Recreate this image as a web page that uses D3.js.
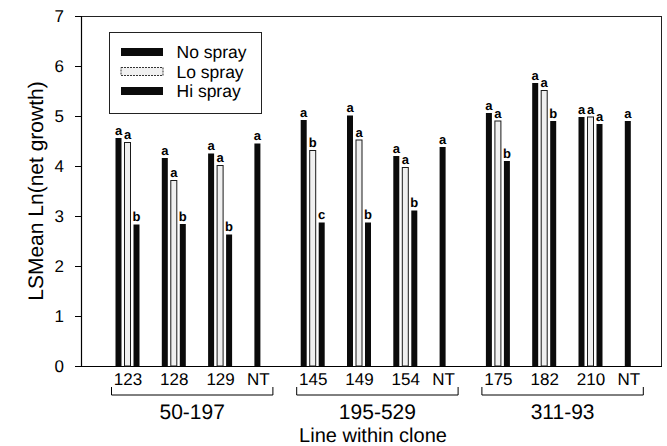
<!DOCTYPE html>
<html>
<head>
<meta charset="utf-8">
<script src="https://cdn.jsdelivr.net/npm/d3@7"></script>
<style>
  html, body { margin: 0; padding: 0; background: #fff; }
  svg { display: block; font-family: "Liberation Sans", Arial, Helvetica, sans-serif; -webkit-font-smoothing: antialiased; }
  text { text-rendering: geometricPrecision; }
</style>
</head>
<body>
<svg id="chart" width="667" height="446"></svg>
<script>
// ---- data ----
const lineLabels = ["123", "128", "129", "NT", "145", "149", "154", "NT", "175", "182", "210", "NT"];
const lineClone  = [0, 0, 0, 0, 1, 1, 1, 1, 2, 2, 2, 2];
const clones = ["50-197", "195-529", "311-93"];
const seriesNames = ["No spray", "Lo spray", "Hi spray"];
const noSpray = [4.56, 4.16, 4.25, 4.45, 4.92, 5.01, 4.20, 4.38, 5.06, 5.66, 4.98, 4.90];
const loSpray = [4.47, 3.71, 4.01, null, 4.31, 4.52, 3.97, null, 4.90, 5.51, 4.98, null];
const hiSpray = [2.83, 2.84, 2.63, null, 2.87, 2.87, 3.11, null, 4.10, 4.90, 4.84, null];
const noLetters = ["a", "a", "a", "a", "a", "a", "a", "a", "a", "a", "a", "a"];
const loLetters = ["a", "a", "a", null, "b", "a", "a", null, "a", "a", "a", null];
const hiLetters = ["b", "b", "b", null, "c", "b", "b", null, "b", "b", "a", null];
const yTicks = [0, 1, 2, 3, 4, 5, 6, 7];

// ---- layout ----
const L = 81, R = 662, T = 16, B = 366;
const svg = d3.select("#chart");

const y = d3.scaleLinear().domain([0, 7]).range([B, T]);
const ids = d3.range(lineLabels.length);
const x = d3.scaleBand().domain(ids).range([115.5, 115.5 + 12 * 46.3]).paddingInner(0).paddingOuter(0);
const xs = d3.scaleBand().domain(seriesNames).range([0, 24]).paddingInner(1 / 3).paddingOuter(0);

const seriesVals = [noSpray, loSpray, hiSpray];
const seriesLetters = [noLetters, loLetters, hiLetters];
const fills = ["#0b0b0b", "#f0f0f0", "#0b0b0b"];

const bars = [];
seriesNames.forEach((s, si) => {
  ids.forEach(i => {
    const v = seriesVals[si][i];
    if (v != null) bars.push({ i, s, si, v, letter: seriesLetters[si][i] });
  });
});

// frame
svg.append("line").attr("x1", L).attr("x2", R).attr("y1", T + 0.5).attr("y2", T + 0.5)
  .attr("stroke", "#222").attr("stroke-width", 1);
svg.append("line").attr("x1", R - 0.5).attr("x2", R - 0.5).attr("y1", T).attr("y2", B)
  .attr("stroke", "#222").attr("stroke-width", 1);

// y axis
const yAxis = svg.append("g").attr("transform", `translate(${L},0)`)
  .call(d3.axisLeft(y).tickValues(yTicks).tickSize(6).tickPadding(11).tickFormat(d3.format("d")));
yAxis.select(".domain").attr("stroke", "#000").attr("stroke-width", 1.2);
yAxis.selectAll(".tick line").attr("stroke", "#000");
yAxis.selectAll(".tick text").attr("font-size", 17).attr("fill", "#000")
  .attr("font-family", "Liberation Sans, Arial, sans-serif");

// bottom axis line
svg.append("line").attr("x1", L - 6).attr("x2", R).attr("y1", B + 0.5).attr("y2", B + 0.5)
  .attr("stroke", "#000").attr("stroke-width", 1.2);

// bars
svg.append("g").selectAll("rect").data(bars).join("rect")
  .attr("x", d => x(d.i) + xs(d.s))
  .attr("y", d => y(d.v))
  .attr("width", xs.bandwidth())
  .attr("height", d => y(0) - y(d.v))
  .attr("fill", d => fills[d.si])
  .attr("stroke", d => d.si === 1 ? "#1a1a1a" : "none")
  .attr("stroke-width", 1);

// letters
svg.append("g").selectAll("text").data(bars).join("text")
  .attr("x", d => x(d.i) + xs(d.s) + xs.bandwidth() / 2)
  .attr("y", d => y(d.v) - 3.5)
  .attr("text-anchor", "middle")
  .attr("font-size", 13)
  .attr("font-weight", "bold")
  .attr("fill", "#000")
  .text(d => d.letter);

// x tick labels
svg.append("g").selectAll("text").data(ids).join("text")
  .attr("x", i => lineLabels[i] === "NT" ? x(i) + xs.bandwidth() / 2 + 1 : x(i) + 12.5)
  .attr("y", 384.5)
  .attr("text-anchor", "middle")
  .attr("font-size", 17)
  .attr("fill", "#000")
  .text(i => lineLabels[i]);

// clone brackets
const cloneRanges = clones.map((c, ci) => {
  const members = ids.filter(i => lineClone[i] === ci);
  const x0 = x(members[0]) - 4;
  const x1 = x(members[members.length - 1]) + xs.bandwidth() + 12.5;
  return { c, x0, x1 };
});
const br = svg.append("g");
br.selectAll("path").data(cloneRanges).join("path")
  .attr("d", d => `M${d.x0},387 V395 H${d.x1} V387`)
  .attr("fill", "none").attr("stroke", "#000").attr("stroke-width", 1);
br.selectAll("text").data(cloneRanges).join("text")
  .attr("x", d => (d.x0 + d.x1) / 2)
  .attr("y", 418.5)
  .attr("text-anchor", "middle")
  .attr("font-size", 21)
  .attr("fill", "#000")
  .text(d => d.c);

// axis titles
svg.append("text").attr("x", (L + R) / 2 + 1.5).attr("y", 442)
  .attr("text-anchor", "middle").attr("font-size", 20).attr("fill", "#000")
  .text("Line within clone");
svg.append("text")
  .attr("transform", `translate(43,${(T + B) / 2}) rotate(-90)`)
  .attr("text-anchor", "middle").attr("font-size", 21).attr("fill", "#000")
  .text("LSMean Ln(net growth)");

// legend
const lg = svg.append("g");
lg.append("rect").attr("x", 109.5).attr("y", 32.5).attr("width", 152).attr("height", 81)
  .attr("fill", "#fff").attr("stroke", "#222").attr("stroke-width", 1);
const ly = d3.scalePoint().domain(seriesNames).range([52, 91]);
lg.selectAll("rect.sw").data(seriesNames).join("rect").attr("class", "sw")
  .attr("x", 121).attr("y", d => ly(d) - 4).attr("width", 42).attr("height", 8)
  .attr("fill", (d, i) => fills[i])
  .attr("stroke", (d, i) => i === 1 ? "#333" : "none")
  .attr("stroke-dasharray", (d, i) => i === 1 ? "2,1" : null);
lg.selectAll("text").data(seriesNames).join("text")
  .attr("x", 176.5).attr("y", d => ly(d) + 6)
  .attr("font-size", 17.5).attr("fill", "#000")
  .text(d => d);
</script>
</body>
</html>
